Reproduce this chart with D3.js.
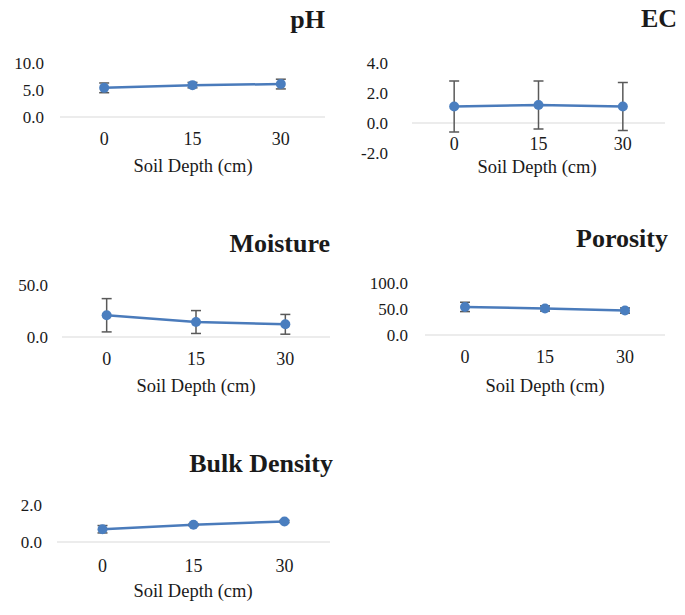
<!DOCTYPE html>
<html><head><meta charset="utf-8">
<script src="https://cdn.jsdelivr.net/npm/d3@7"></script>
<style>
html,body{margin:0;padding:0;background:#fff;}
svg{display:block;}
text{font-family:"Liberation Serif","Times New Roman",serif;fill:#1a1a1a;}
</style></head>
<body>
<script>
// ---- data ----
const depths = ["0", "15", "30"];
const xAxisTitle = "Soil Depth (cm)";

const phMean = [5.4, 5.9, 6.1];
const phErr = [0.9, 0.5, 0.9];
const phTicks = [0, 5, 10];

const ecMean = [1.1, 1.2, 1.1];
const ecErr = [1.7, 1.6, 1.6];
const ecTicks = [-2, 0, 2, 4];

const moistureMean = [20.9, 14.4, 12.2];
const moistureErr = [16.0, 11.0, 9.5];
const moistureTicks = [0, 50];

const porosityMean = [54, 51, 47];
const porosityErr = [9, 5, 5];
const porosityTicks = [0, 50, 100];

const bulkMean = [0.69, 0.93, 1.11];
const bulkErr = [0.2, 0.06, 0.06];
const bulkTicks = [0, 2];

// ---- layout ----
const panels = [
  {title:"pH", mean:phMean, err:phErr, ticks:phTicks, x0:60, x1:325, yTop:63, yBot:117, dom:[0,10],
   tickRight:44, titleRight:325, titleY:28, xTickY:145, axTitleY:172, axTitleX:193},
  {title:"EC", mean:ecMean, err:ecErr, ticks:ecTicks, x0:412, x1:665, yTop:63, yBot:153, dom:[-2,4],
   tickRight:388, titleRight:677, titleY:27, xTickY:150, axTitleY:173, axTitleX:537},
  {title:"Moisture", mean:moistureMean, err:moistureErr, ticks:moistureTicks, x0:62, x1:330, yTop:285, yBot:337, dom:[0,50],
   tickRight:48, titleRight:330, titleY:252, xTickY:365, axTitleY:392, axTitleX:196},
  {title:"Porosity", mean:porosityMean, err:porosityErr, ticks:porosityTicks, x0:425, x1:665, yTop:283, yBot:335, dom:[0,100],
   tickRight:408, titleRight:668, titleY:247, xTickY:363, axTitleY:392, axTitleX:545},
  {title:"Bulk Density", mean:bulkMean, err:bulkErr, ticks:bulkTicks, x0:57, x1:330, yTop:505, yBot:542, dom:[0,2],
   tickRight:42, titleRight:333, titleY:472, xTickY:572, axTitleY:597, axTitleX:193}
];

const W = 685, H = 615;
const svg = d3.select("body").append("svg").attr("width", W).attr("height", H);

const markerColor = "#4a7ebf";
const lineColor = "#4a7bbb";
const errColor = "#595959";
const fmt = v => d3.format(".1f")(v).replace("\u2212", "-");

panels.forEach(p => {
  const g = svg.append("g");
  const x = d3.scalePoint().domain(depths).range([p.x0, p.x1]).padding(0.5);
  const y = d3.scaleLinear().domain(p.dom).range([p.yBot, p.yTop]);

  // title
  g.append("text").attr("x", p.titleRight).attr("y", p.titleY)
    .attr("text-anchor", "end").style("font-size", "26px").style("font-weight", "bold")
    .text(p.title);

  // zero axis line
  g.append("line").attr("x1", p.x0).attr("x2", p.x1)
    .attr("y1", y(0)).attr("y2", y(0))
    .attr("stroke", "#d9d9d9").attr("stroke-width", 1.2);

  // y tick labels
  g.selectAll("text.yt").data(p.ticks).enter().append("text")
    .attr("class", "yt")
    .attr("x", p.tickRight).attr("y", d => y(d))
    .attr("dy", "0.35em").attr("text-anchor", "end")
    .style("font-size", "17px")
    .text(d => fmt(d));

  // x tick labels
  g.selectAll("text.xt").data(depths).enter().append("text")
    .attr("class", "xt")
    .attr("x", d => x(d)).attr("y", p.xTickY)
    .attr("text-anchor", "middle").style("font-size", "18px")
    .text(d => d);

  // axis title
  g.append("text").attr("x", p.axTitleX).attr("y", p.axTitleY)
    .attr("text-anchor", "middle").style("font-size", "18.5px")
    .text(xAxisTitle);

  const pts = depths.map((d, i) => ({d, m: p.mean[i], e: p.err[i]}));

  // line
  g.append("path").datum(pts)
    .attr("d", d3.line().x(q => x(q.d)).y(q => y(q.m)))
    .attr("fill", "none").attr("stroke", lineColor).attr("stroke-width", 2.5);

  // error bars
  const eb = g.selectAll("g.eb").data(pts).enter().append("g").attr("class", "eb");
  eb.append("line").attr("x1", q => x(q.d)).attr("x2", q => x(q.d))
    .attr("y1", q => y(q.m + q.e)).attr("y2", q => y(q.m - q.e))
    .attr("stroke", errColor).attr("stroke-width", 1.5);
  [1, -1].forEach(s => {
    eb.append("line").attr("x1", q => x(q.d) - 5).attr("x2", q => x(q.d) + 5)
      .attr("y1", q => y(q.m + s * q.e)).attr("y2", q => y(q.m + s * q.e))
      .attr("stroke", errColor).attr("stroke-width", 1.5);
  });

  // markers
  g.selectAll("circle").data(pts).enter().append("circle")
    .attr("cx", q => x(q.d)).attr("cy", q => y(q.m)).attr("r", 5)
    .attr("fill", markerColor);
});
</script>
</body></html>
